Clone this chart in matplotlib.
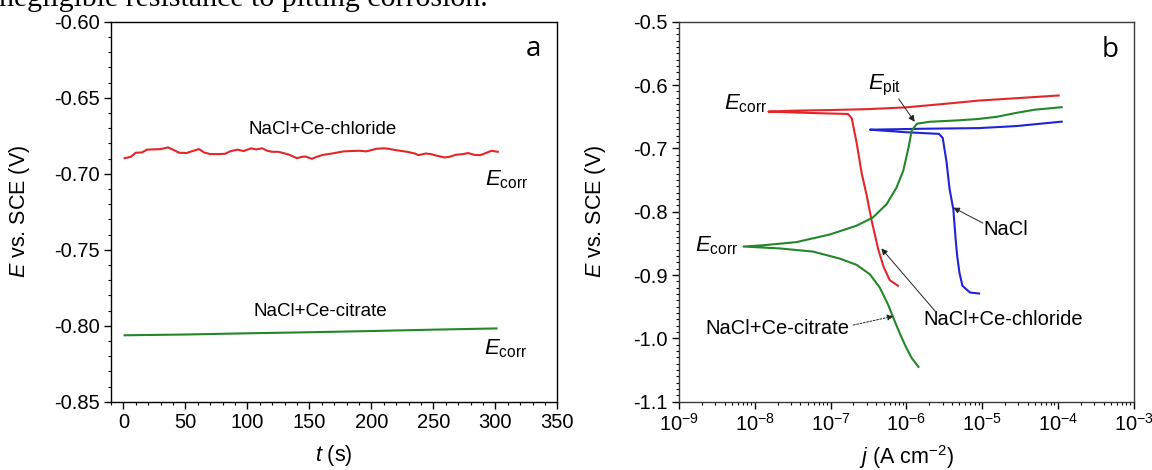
import numpy as np
import matplotlib
matplotlib.use("Agg")
import matplotlib.pyplot as plt
from matplotlib.ticker import MultipleLocator, FormatStrFormatter, LogLocator, NullFormatter

plt.rcParams['font.family'] = ['Liberation Sans', 'DejaVu Sans']
plt.rcParams['mathtext.fontset'] = 'custom'
plt.rcParams['mathtext.rm'] = 'Liberation Sans'
plt.rcParams['mathtext.it'] = 'Liberation Sans:italic'
plt.rcParams['mathtext.bf'] = 'Liberation Sans:bold'
plt.rcParams['axes.unicode_minus'] = False

# ---------------- Panel a: OCP vs time ----------------
t_chloride = [1, 6, 10, 15, 19, 24, 30, 36, 40, 45, 51, 55, 61, 65, 70, 77, 82, 86, 92, 97,
              103, 107, 112, 116, 120, 125, 129, 134, 140, 144, 147, 152, 156, 161, 167, 173,
              178, 184, 190, 196, 199, 204, 210, 214, 219, 223, 229, 235, 238, 244, 248, 253,
              259, 263, 268, 274, 278, 283, 288, 293, 297, 302]
E_chloride = [-0.6898, -0.6889, -0.6862, -0.6860, -0.6842, -0.6840, -0.6838, -0.6827, -0.6842,
              -0.6862, -0.6864, -0.6853, -0.6838, -0.6860, -0.6871, -0.6871, -0.6869, -0.6853,
              -0.6842, -0.6851, -0.6833, -0.6840, -0.6833, -0.6849, -0.6856, -0.6856, -0.6864,
              -0.6876, -0.6898, -0.6889, -0.6887, -0.6902, -0.6889, -0.6876, -0.6869, -0.6860,
              -0.6853, -0.6851, -0.6849, -0.6853, -0.6847, -0.6836, -0.6833, -0.6836, -0.6844,
              -0.6849, -0.6856, -0.6867, -0.6878, -0.6867, -0.6871, -0.6882, -0.6893, -0.6889,
              -0.6876, -0.6871, -0.6864, -0.6876, -0.6878, -0.6862, -0.6849, -0.6856]
t_citrate = [1, 50, 100, 150, 200, 250, 301]
E_citrate = [-0.8063, -0.8058, -0.8050, -0.8043, -0.8035, -0.8026, -0.8018]

# ---------------- Panel b: polarization curves (log10 j, E) ----------------
logj_red = [-6.11, -6.22, -6.30, -6.37, -6.41, -6.46, -6.52, -6.59, -6.655, -6.72, -6.77, -7.3,
            -7.82, -7.5, -7.0, -6.5, -6.01, -5.52, -5.04, -4.55, -3.99]
E_red = [-0.917, -0.908, -0.887, -0.860, -0.839, -0.813, -0.776, -0.739, -0.692, -0.6526, -0.6457,
         -0.644, -0.642, -0.6405, -0.6395, -0.638, -0.6353, -0.630, -0.6245, -0.6208, -0.6165]

logj_blue = [-5.04, -5.16, -5.26, -5.30, -5.33, -5.35, -5.38, -5.43, -5.47, -5.52, -5.57, -6.01,
             -6.48, -6.25, -5.77, -5.04, -4.55, -3.95]
E_blue = [-0.9292, -0.9276, -0.917, -0.8958, -0.8692, -0.8427, -0.7963, -0.764, -0.7211, -0.6836,
          -0.6771, -0.6745, -0.6705, -0.6700, -0.6690, -0.668, -0.6648, -0.6578]

logj_green = [-5.84, -5.93, -6.00, -6.08, -6.17, -6.24, -6.35, -6.48, -6.655, -6.88, -7.23, -7.67,
              -8.15, -7.89, -7.45, -7.01, -6.655, -6.44, -6.26, -6.13, -6.04, -5.97, -5.93, -5.86,
              -5.69, -5.52, -5.28, -5.04, -4.80, -4.55, -4.31, -3.95]
E_green = [-1.045, -1.031, -1.015, -0.994, -0.968, -0.947, -0.920, -0.899, -0.884, -0.874, -0.863,
           -0.858, -0.855, -0.853, -0.848, -0.836, -0.822, -0.809, -0.788, -0.762, -0.735, -0.698,
           -0.672, -0.661, -0.658, -0.657, -0.6555, -0.6535, -0.650, -0.644, -0.639, -0.635]

RED = '#e3262b'
GREEN = '#23872a'
BLUE = '#1f24d6'

fig = plt.figure(figsize=(11.52, 4.70), dpi=100)

# clipped body text at the very top of the page
fig.text(-0.001, 1 - 6.0 / 470, 'negligible resistance to pitting corrosion.',
         family='Liberation Serif', fontsize=21.5, va='baseline', ha='left')

TICK_FS = 14.5
LABEL_FS = 15.5

# ---------- panel a ----------
axa = fig.add_axes([111 / 1152, 1 - 401.7 / 470, 446.3 / 1152, 380 / 470])
axa.plot(t_chloride, E_chloride, color=RED, lw=1.5)
axa.plot(t_citrate, E_citrate, color=GREEN, lw=1.5)
axa.set_xlim(-10, 350)
axa.set_ylim(-0.85, -0.60)
axa.xaxis.set_major_locator(MultipleLocator(50))
axa.xaxis.set_minor_locator(MultipleLocator(10))
axa.yaxis.set_major_locator(MultipleLocator(0.05))
axa.yaxis.set_minor_locator(MultipleLocator(0.01))
axa.yaxis.set_major_formatter(FormatStrFormatter('%.2f'))
axa.set_xlabel('$t$ (s)', fontsize=LABEL_FS)
axa.set_ylabel('$E$ vs. SCE (V)', fontsize=LABEL_FS)
axa.xaxis.set_label_coords(0.5, -0.108)
axa.yaxis.set_label_coords(-0.177, 0.5)
for s in axa.spines.values():
    s.set_linewidth(1.0)
    s.set_color('black')
axa.tick_params(which='major', direction='out', length=5, width=1.0, labelsize=TICK_FS, pad=3)
axa.tick_params(which='minor', direction='out', length=2.5, width=0.8)

axa.text(160.6, -0.671, 'NaCl+Ce-chloride', fontsize=13.5, ha='center', va='center')
axa.text(292, -0.704, r'$E_{\mathrm{corr}}$', fontsize=16, ha='left', va='center')
axa.text(159, -0.7905, 'NaCl+Ce-citrate', fontsize=13.5, ha='center', va='center')
axa.text(291, -0.815, r'$E_{\mathrm{corr}}$', fontsize=16, ha='left', va='center')
axa.text(331, -0.618, 'a', fontsize=20, ha='center', va='center', family='Open Sans')

# ---------- panel b ----------
axb = fig.add_axes([679 / 1152, 1 - 401.7 / 470, 454.7 / 1152, 380 / 470])
axb.plot(np.power(10.0, logj_red), E_red, color=RED, lw=1.5)
axb.plot(np.power(10.0, logj_blue), E_blue, color=BLUE, lw=1.5)
axb.plot(np.power(10.0, logj_green), E_green, color=GREEN, lw=1.5)
axb.set_xscale('log')
axb.set_xlim(1e-9, 1e-3)
axb.set_ylim(-1.1, -0.5)
axb.xaxis.set_major_locator(LogLocator(base=10, numticks=10))
axb.xaxis.set_minor_locator(LogLocator(base=10, subs=np.arange(2, 10), numticks=20))
axb.xaxis.set_minor_formatter(NullFormatter())
axb.yaxis.set_major_locator(MultipleLocator(0.1))
axb.yaxis.set_minor_locator(MultipleLocator(0.01))
axb.yaxis.set_major_formatter(FormatStrFormatter('%.1f'))
axb.set_xlabel('$j$ (A cm$^{-2}$)', fontsize=LABEL_FS)
axb.set_ylabel('$E$ vs. SCE (V)', fontsize=LABEL_FS)
axb.xaxis.set_label_coords(0.5, -0.108)
axb.yaxis.set_label_coords(-0.156, 0.5)
for s in axb.spines.values():
    s.set_linewidth(1.0)
    s.set_color('#3a3a3a')
axb.tick_params(which='major', direction='out', length=5, width=1.0, labelsize=TICK_FS, pad=3)
axb.tick_params(which='minor', direction='out', length=2.5, width=0.8)

def J(v):
    return 10.0 ** v

ANN_FS = 14.5
arrow = dict(arrowstyle='-|>', color='#222222', lw=0.7, mutation_scale=9, shrinkA=0, shrinkB=0)
axb.text(J(-7.84), -0.630, r'$E_{\mathrm{corr}}$', fontsize=16, ha='right', va='center')
axb.text(J(-6.50), -0.600, r'$E_{\mathrm{pit}}$', fontsize=16, ha='left', va='center')
axb.annotate('', xy=(J(-5.89), -0.658), xytext=(J(-6.10), -0.622), arrowprops=arrow)
axb.text(J(-4.99), -0.8285, 'NaCl', fontsize=ANN_FS, ha='left', va='center')
axb.annotate('', xy=(J(-5.38), -0.7936), xytext=(J(-4.99), -0.818), arrowprops=arrow)
axb.text(J(-8.22), -0.854, r'$E_{\mathrm{corr}}$', fontsize=16, ha='right', va='center')
axb.text(J(-6.75), -0.985, 'NaCl+Ce-citrate', fontsize=ANN_FS, ha='right', va='center')
arrow_d = dict(arrow)
arrow_d['linestyle'] = (0, (2, 1.5))
axb.annotate('', xy=(J(-6.17), -0.965), xytext=(J(-6.70), -0.979), arrowprops=arrow_d)
axb.text(J(-5.77), -0.970, 'NaCl+Ce-chloride', fontsize=ANN_FS, ha='left', va='center')
axb.annotate('', xy=(J(-6.33), -0.858), xytext=(J(-5.62), -0.957), arrowprops=arrow)
axb.text(J(-3.31), -0.545, 'b', fontsize=20, ha='center', va='center', family='Open Sans')

fig.savefig('out.png', dpi=100)
